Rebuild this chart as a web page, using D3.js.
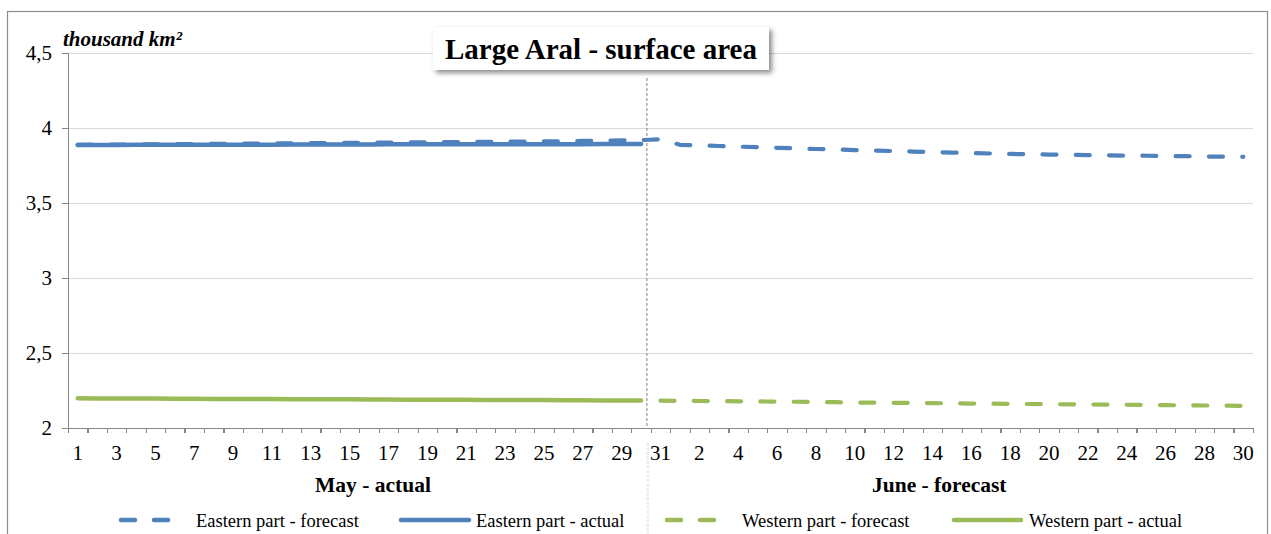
<!DOCTYPE html>
<html>
<head>
<meta charset="utf-8" />
<style>
body {
	margin:0;
	background:#fff;
}
svg text {
	font-family: "Liberation Serif", "Times New Roman", serif;
	fill:#000;
}
.grid line {
	stroke:#d9d9d9;
	stroke-width:1;
}
.grid path {
	display:none;
}
.axis path, .axis line {
	stroke:#868686;
	stroke-width:1.2;
	shape-rendering:crispEdges;
}
.axis text {
	font-size:21px;
}
.month {
	font-size:21.5px;
	font-weight:bold;
}
.legend text {
	font-size:18.5px;
}
</style>
</head>
<body>
<svg id="chart" width="1271" height="534" xmlns="http://www.w3.org/2000/svg"></svg>
<script src="https://cdn.jsdelivr.net/npm/d3@7"></script>
<script>

// categories: May 1..31, June 1..30
var dayLabels = ["1","2","3","4","5","6","7","8","9","10","11","12","13","14","15","16","17","18","19","20",
	"21","22","23","24","25","26","27","28","29","30","31",
	"1","2","3","4","5","6","7","8","9","10","11","12","13","14","15","16","17","18","19","20",
	"21","22","23","24","25","26","27","28","29","30"];
var monthLabels = ["May - actual", "June - forecast"];
var yTicks = [2, 2.5, 3, 3.5, 4, 4.5];

// thousand km2
var eastActual = [3.887,3.887,3.887,3.888,3.888,3.888,3.888,3.889,3.889,3.889,3.889,3.890,3.890,3.890,3.890,
	3.890,3.891,3.891,3.891,3.891,3.891,3.892,3.892,3.892,3.892,3.892,3.892,3.893,3.893,3.893];
var eastForecast = [3.888,3.889,3.889,3.890,3.891,3.892,3.893,3.894,3.895,3.896,3.897,3.898,3.899,3.900,3.901,
	3.902,3.903,3.904,3.905,3.906,3.907,3.908,3.909,3.910,3.911,3.912,3.914,3.915,3.917,3.919,3.925,
	3.888,3.884,3.880,3.876,3.872,3.868,3.864,3.860,3.857,3.853,3.850,3.846,3.843,3.840,3.836,
	3.833,3.830,3.827,3.825,3.823,3.821,3.819,3.818,3.816,3.815,3.813,3.812,3.810,3.809,3.808];
var westActual = [2.198,2.197,2.197,2.196,2.196,2.195,2.195,2.194,2.194,2.193,2.193,2.192,2.192,2.191,2.191,
	2.190,2.190,2.189,2.189,2.188,2.188,2.187,2.187,2.186,2.186,2.185,2.185,2.184,2.184,2.183];
var westForecast = [null,null,null,null,null,null,null,null,null,null,null,null,null,null,null,
	null,null,null,null,null,null,null,null,null,null,null,null,null,null,null,2.182,
	2.181,2.180,2.179,2.178,2.177,2.176,2.175,2.173,2.172,2.170,2.169,2.168,2.167,2.166,2.164,
	2.163,2.162,2.161,2.160,2.159,2.158,2.157,2.156,2.155,2.154,2.152,2.151,2.150,2.149,2.148];

var legendNames = ["Eastern part - forecast","Eastern part - actual","Western part - forecast","Western part - actual"];
var blue = "#4f81bd", green = "#9bbb59";

var svg = d3.select("#chart");
var plotLeft = 68, plotRight = 1253, plotTop = 53, plotBottom = 428;

// outer frame
svg.append("rect")
	.attr("x",7.5).attr("y",11.5)
	.attr("width",1260).attr("height",540)
	.attr("fill","none")
	.attr("stroke","#8c8c8c")
	.attr("stroke-width",1.2);

var x = d3.scaleBand().domain(d3.range(dayLabels.length)).range([plotLeft,plotRight]);
var xb = d3.scaleLinear().domain([0,dayLabels.length]).range([plotLeft,plotRight]);
var y = d3.scaleLinear().domain([2,4.5]).range([plotBottom,plotTop]);
var cx = function(i) { return x(i)+x.bandwidth()/2; };

// grid
svg.append("g").attr("class","grid")
	.attr("transform","translate("+plotLeft+",0)")
	.call(d3.axisRight(y).tickValues(yTicks.slice(1)).tickSize(plotRight-plotLeft).tickFormat(""));

// divider between actual and forecast
svg.append("line")
	.attr("x1",xb(29.8)).attr("x2",xb(29.8))
	.attr("y1",78).attr("y2",plotBottom)
	.attr("stroke","#7f7f7f").attr("stroke-width",1)
	.attr("stroke-dasharray","3,2");
svg.append("line")
	.attr("x1",xb(29.85)).attr("x2",xb(29.85))
	.attr("y1",443).attr("y2",534)
	.attr("stroke","#ebebeb").attr("stroke-width",2.5)
	.attr("stroke-dasharray","3,1.5");

// axes
var yAxis = svg.append("g").attr("class","axis")
	.attr("transform","translate("+plotLeft+",0)")
	.call(d3.axisLeft(y).tickValues(yTicks).tickSize(6).tickPadding(10)
		.tickFormat(function(d) { return String(d).replace(".",","); }));
yAxis.selectAll("text").attr("dy","0.33em");

svg.append("g").attr("class","axis")
	.attr("transform","translate(0,"+plotBottom+")")
	.call(d3.axisBottom(xb).tickValues(d3.range(dayLabels.length+1)).tickSize(5).tickFormat(""));

var xLabels = svg.append("g").attr("class","axis")
	.attr("transform","translate(0,"+plotBottom+")")
	.call(d3.axisBottom(x).tickSize(0).tickPadding(17)
		.tickFormat(function(i) { return i%2==0 ? dayLabels[i] : ""; }));
xLabels.select(".domain").remove();

// month captions
svg.append("text").attr("class","month")
	.attr("x",xb(15.7)).attr("y",492)
	.attr("text-anchor","middle")
	.text(monthLabels[0]);
svg.append("text").attr("class","month")
	.attr("x",xb(44.85)).attr("y",492)
	.attr("text-anchor","middle")
	.text(monthLabels[1]);

// unit
svg.append("text")
	.attr("x",63).attr("y",46)
	.attr("font-size","21px")
	.attr("font-weight","bold")
	.attr("font-style","italic")
	.text("thousand km²");

// lines
var line = d3.line()
	.defined(function(d) { return d != null; })
	.x(function(d,i) { return cx(i); })
	.y(function(d) { return y(d); });

var series = [
	{values:eastForecast, color:blue, dash:"14,19.3", w:4.2},
	{values:eastActual, color:blue, dash:null, w:4.5},
	{values:westForecast, color:green, dash:"14,19.3", w:4.2},
	{values:westActual, color:green, dash:null, w:4.5}
];

svg.append("g").selectAll("path")
	.data(series)
	.enter().append("path")
	.attr("d",function(s) { return line(s.values); })
	.attr("fill","none")
	.attr("stroke",function(s) { return s.color; })
	.attr("stroke-width",function(s) { return s.w; })
	.attr("stroke-linecap","round")
	.attr("stroke-linejoin","round")
	.attr("stroke-dasharray",function(s) { return s.dash; });

// title box
var defs = svg.append("defs");
var f = defs.append("filter").attr("id","shadow")
	.attr("x","-10%").attr("y","-30%").attr("width","130%").attr("height","170%");
f.append("feDropShadow")
	.attr("dx",3).attr("dy",3).attr("stdDeviation",2.5)
	.attr("flood-color","#000").attr("flood-opacity",0.45);

svg.append("rect")
	.attr("x",433).attr("y",27)
	.attr("width",336).attr("height",43)
	.attr("fill","#fff")
	.attr("filter","url(#shadow)");
svg.append("text")
	.attr("x",601).attr("y",59)
	.attr("text-anchor","middle")
	.attr("font-size","29px")
	.attr("font-weight","bold")
	.text("Large Aral - surface area");

// legend
var legendPos = [
	{x1:121, x2:172, text:196, color:blue, dash:"14,19"},
	{x1:401, x2:469, text:476, color:blue, dash:null},
	{x1:667, x2:717, text:742, color:green, dash:"14,19"},
	{x1:954, x2:1021, text:1029, color:green, dash:null}
];
var lg = svg.append("g").attr("class","legend");
legendNames.forEach(function(name,i) {
	var p = legendPos[i];
	lg.append("line")
		.attr("x1",p.x1).attr("x2",p.x2)
		.attr("y1",520).attr("y2",520)
		.attr("stroke",p.color)
		.attr("stroke-width",4.5)
		.attr("stroke-linecap","round")
		.attr("stroke-dasharray",p.dash);
	lg.append("text")
		.attr("x",p.text).attr("y",526.5)
		.text(name);
});

</script>
</body>
</html>
